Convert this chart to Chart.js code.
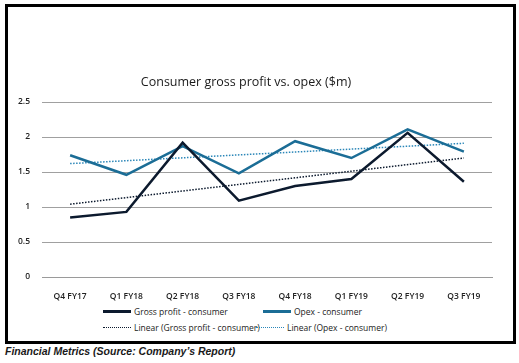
<!DOCTYPE html>
<html>
<head>
<meta charset="utf-8">
<script src="https://cdn.jsdelivr.net/npm/chart.js@4"></script>
<style>
  body { margin: 0; background: #fff; width: 519px; height: 363px; position: relative; overflow: hidden; font-family: "Open Sans", sans-serif; }
  #frame { position: absolute; left: 5px; top: 4px; width: 505px; height: 334px; border: 3px solid #000; }
  #wrap { position: absolute; left: 0; top: 0; width: 519px; height: 302px; }
  #legend { position: absolute; left: 0; top: 303px; width: 519px; font-size: 8.5px; color: #222; }
  .item { position: absolute; display: flex; align-items: center; white-space: nowrap; }
  .sw { width: 28px; height: 0; margin-right: 3px; }
  #caption { position: absolute; left: 5px; top: 345px; font: italic bold 10.5px "Liberation Sans", sans-serif; color: #1a1a1a; }
</style>
</head>
<body>
<div id="frame"></div>
<div id="wrap"><canvas id="grafico"></canvas></div>
<div id="legend"></div>
<div id="caption">Financial Metrics (Source: Company’s Report)</div>
<script>
const trimestres = ['Q4 FY17', 'Q1 FY18', 'Q2 FY18', 'Q3 FY18', 'Q4 FY18', 'Q1 FY19', 'Q2 FY19', 'Q3 FY19'];
const grossProfit = [0.85, 0.93, 1.92, 1.09, 1.30, 1.40, 2.06, 1.36];
const opex = [1.74, 1.46, 1.87, 1.48, 1.94, 1.70, 2.11, 1.79];
// trend lines at both ends
const trendGross = [1.04, null, null, null, null, null, null, 1.70];
const trendOpex = [1.62, null, null, null, null, null, null, 1.91];
const yTicks = [0, 0.5, 1, 1.5, 2, 2.5];

const colorGross = '#0c1a2e';
const colorOpex = '#1b6d96';

const ctx = document.getElementById('grafico').getContext('2d');
const grafico = new Chart(ctx, {
    type: 'line',
    data: {
        labels: trimestres,
        datasets: [
            { label: 'Gross profit - consumer', data: grossProfit, borderColor: colorGross, borderWidth: 2.5, pointRadius: 0, tension: 0 },
            { label: 'Opex - consumer', data: opex, borderColor: colorOpex, borderWidth: 2.5, pointRadius: 0, tension: 0 },
            { label: 'Linear (Gross profit - consumer)', data: trendGross, borderColor: colorGross, borderWidth: 1.5, borderDash: [1.5, 1.5], pointRadius: 0, spanGaps: true },
            { label: 'Linear (Opex - consumer)', data: trendOpex, borderColor: '#2a86b8', borderWidth: 1.5, borderDash: [1.5, 1.5], pointRadius: 0, spanGaps: true }
        ]
    },
    options: {
        responsive: true,
        maintainAspectRatio: false,
        animation: false,
        layout: { padding: { top: 75, right: 27, left: 0, bottom: 0 } },
        plugins: {
            legend: { display: false },
            tooltip: { enabled: false },
            title: {
                display: true,
                text: 'Consumer gross profit vs. opex ($m)',
                color: '#1a1a1a',
                font: { family: 'Open Sans', size: 12.5, weight: 'normal' },
                padding: { top: 0, bottom: 12 }
            }
        },
        scales: {
            x: {
                offset: true,
                grid: { display: false },
                border: { color: '#9a9a9a', width: 1 },
                ticks: { color: '#222', font: { family: 'Open Sans', size: 8.5, weight: '600' }, maxRotation: 0, padding: 6 },
                afterFit: s => { s.height = 25; }
            },
            y: {
                min: 0, max: 2.5,
                afterBuildTicks: s => { s.ticks = yTicks.map(v => ({ value: v })); },
                grid: { color: '#a0a0a0', lineWidth: 1, drawTicks: false },
                border: { display: false },
                ticks: { color: '#222', font: { family: 'Open Sans', size: 8.5, weight: '600' }, padding: 12, callback: v => String(v) },
                afterFit: s => { s.width = 42; }
            }
        }
    }
});

// leyenda en HTML, dos filas como en el original
const posiciones = [[103, 312], [263, 312], [103, 328], [256, 328]];
const leyenda = document.getElementById('legend');
grafico.data.datasets.forEach((ds, i) => {
    const item = document.createElement('div');
    item.className = 'item';
    item.style.left = posiciones[i][0] + 'px';
    item.style.top = (posiciones[i][1] - 303 - 6) + 'px';
    const sw = document.createElement('span');
    sw.className = 'sw';
    sw.style.borderTop = ds.borderDash ? '1.5px dotted ' + ds.borderColor : '3px solid ' + ds.borderColor;
    item.appendChild(sw);
    item.appendChild(document.createTextNode(ds.label));
    leyenda.appendChild(item);
});
</script>
</body>
</html>
